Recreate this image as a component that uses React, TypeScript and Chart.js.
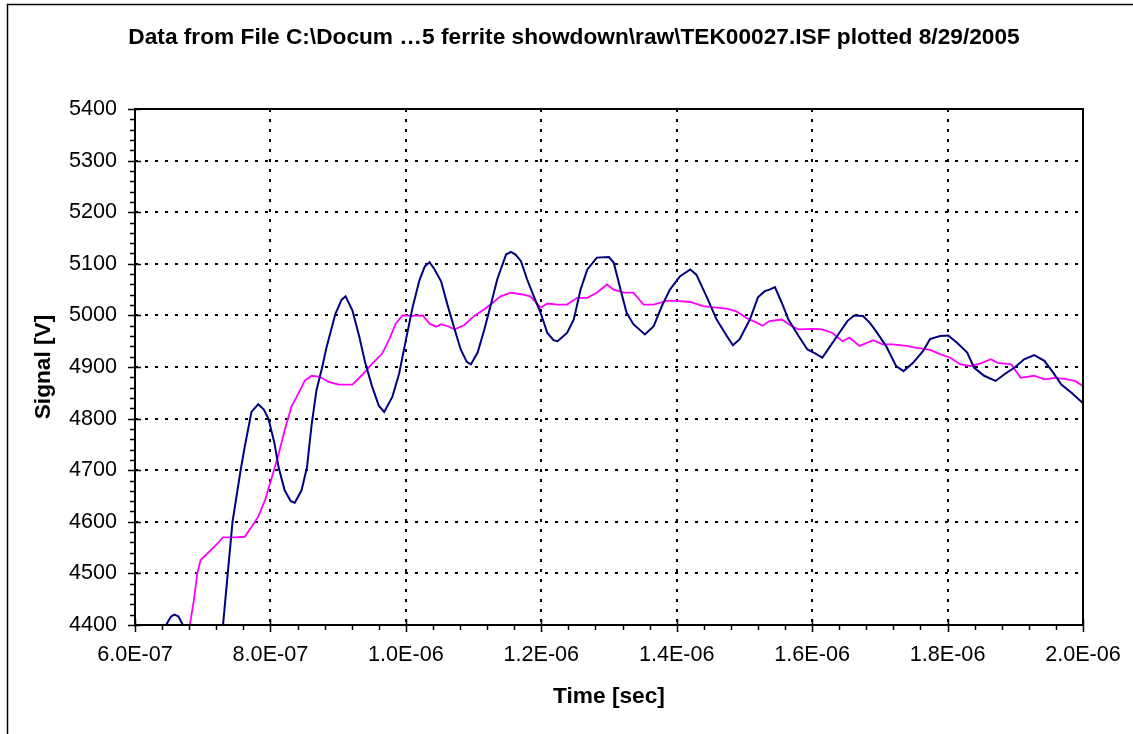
import React, { useEffect, useRef } from "react";
import { Chart, registerables } from "chart.js";

Chart.register(...registerables);

const TITLE = "Data from File C:\\Docum …5 ferrite showdown\\raw\\TEK00027.ISF plotted 8/29/2005";
const X_TITLE = "Time [sec]";
const Y_TITLE = "Signal [V]";

// x axis in microseconds, labels formatted as seconds
const X_MIN = 0.6;
const X_MAX = 2.0;
const X_STEP = 0.2;
const X_MINOR = 0.04;
const Y_MIN = 4400;
const Y_MAX = 5400;
const Y_STEP = 100;
const Y_MINOR = 20;

const blueTimeUs = [
  0.640, 0.648, 0.653, 0.658, 0.664, 0.670, 0.676, 0.726, 0.730, 0.737, 0.744, 0.756, 0.762, 0.772, 0.782, 0.790,
  0.797, 0.806, 0.812, 0.821, 0.830, 0.836, 0.846, 0.854, 0.861, 0.868, 0.876, 0.883, 0.896, 0.905, 0.911, 0.921,
  0.931, 0.940, 0.950, 0.960, 0.968, 0.980, 0.990, 1.000, 1.010, 1.020, 1.028, 1.035, 1.042, 1.052, 1.062, 1.072,
  1.081, 1.090, 1.096, 1.106, 1.116, 1.125, 1.135, 1.148, 1.155, 1.162, 1.170, 1.179, 1.189, 1.199, 1.209, 1.218,
  1.224, 1.238, 1.248, 1.258, 1.268, 1.282, 1.300, 1.307, 1.317, 1.326, 1.336, 1.353, 1.366, 1.378, 1.390, 1.405,
  1.420, 1.429, 1.444, 1.459, 1.474, 1.483, 1.493, 1.508, 1.520, 1.530, 1.537, 1.545, 1.555, 1.565, 1.580, 1.593,
  1.605, 1.615, 1.625, 1.640, 1.652, 1.662, 1.675, 1.685, 1.694, 1.709, 1.724, 1.735, 1.749, 1.764, 1.774, 1.789,
  1.801, 1.814, 1.829, 1.839, 1.854, 1.871, 1.884, 1.899, 1.913, 1.928, 1.943, 1.956, 1.968, 1.983, 1.998, 2.000,
];
const blueVolts = [
  4385, 4405, 4416, 4420, 4417, 4402, 4385, 4385, 4400, 4500, 4600, 4700, 4745, 4813, 4828, 4818,
  4800, 4752, 4706, 4661, 4640, 4637, 4661, 4706, 4790, 4855, 4897, 4939, 5003, 5030, 5037, 5010,
  4960, 4908, 4863, 4825, 4813, 4842, 4887, 4952, 5016, 5068, 5095, 5103, 5090, 5066, 5018, 4973,
  4934, 4910, 4905, 4928, 4973, 5018, 5070, 5118, 5123, 5118, 5105, 5070, 5037, 5005, 4966, 4952,
  4950, 4966, 4992, 5050, 5089, 5112, 5113, 5102, 5050, 5005, 4983, 4963, 4979, 5018, 5050, 5076,
  5089, 5079, 5037, 4992, 4960, 4942, 4954, 4992, 5035, 5047, 5050, 5055, 5025, 4992, 4960, 4934,
  4926, 4918, 4937, 4966, 4989, 5000, 4999, 4986, 4970, 4941, 4902, 4892, 4908, 4931, 4954, 4960,
  4961, 4947, 4928, 4899, 4883, 4873, 4886, 4899, 4915, 4923, 4912, 4889, 4866, 4850, 4832, 4830,
];

const pinkTimeUs = [
  0.678, 0.681, 0.687, 0.692, 0.697, 0.712, 0.722, 0.730, 0.747, 0.762, 0.772, 0.782, 0.792, 0.801, 0.811, 0.821,
  0.831, 0.841, 0.851, 0.861, 0.873, 0.886, 0.901, 0.921, 0.935, 0.950, 0.965, 0.975, 0.985, 0.995, 1.010, 1.025,
  1.035, 1.045, 1.052, 1.062, 1.072, 1.086, 1.101, 1.116, 1.125, 1.140, 1.155, 1.170, 1.184, 1.199, 1.209, 1.224,
  1.238, 1.253, 1.268, 1.282, 1.297, 1.307, 1.322, 1.336, 1.351, 1.366, 1.385, 1.400, 1.420, 1.439, 1.459, 1.474,
  1.488, 1.503, 1.518, 1.527, 1.537, 1.555, 1.570, 1.580, 1.600, 1.615, 1.630, 1.645, 1.655, 1.670, 1.690, 1.704,
  1.719, 1.739, 1.754, 1.774, 1.789, 1.804, 1.819, 1.834, 1.849, 1.864, 1.874, 1.894, 1.908, 1.928, 1.943, 1.958,
  1.973, 1.988, 2.000,
];
const pinkVolts = [
  4380, 4400, 4448, 4500, 4526, 4545, 4558, 4570, 4570, 4571, 4590, 4610, 4642, 4681, 4726, 4777,
  4823, 4848, 4874, 4883, 4881, 4871, 4866, 4866, 4884, 4906, 4926, 4952, 4984, 5000, 4999, 5000,
  4984, 4978, 4983, 4979, 4973, 4981, 4999, 5012, 5021, 5037, 5044, 5041, 5037, 5015, 5023, 5021,
  5021, 5034, 5034, 5044, 5060, 5050, 5044, 5044, 5021, 5021, 5028, 5028, 5026, 5018, 5015, 5013,
  5008, 4995, 4986, 4980, 4989, 4992, 4979, 4973, 4974, 4973, 4966, 4950, 4957, 4941, 4952, 4944,
  4944, 4941, 4937, 4933, 4925, 4918, 4905, 4902, 4907, 4915, 4908, 4905, 4879, 4883, 4876, 4879,
  4877, 4873, 4863,
];

const BLUE = "#000080";
const PINK = "#FF00FF";
const FONT = "'Liberation Sans', Arial, Helvetica, sans-serif";
const TITLE_SIZE = 22.7;
const TICK_SIZE = 21.6;

function fmtSeconds(us: number): string {
  const s = us * 1e-6;
  const exp = Math.floor(Math.log10(s) + 1e-9);
  const mant = s / Math.pow(10, exp);
  return mant.toFixed(1) + "E" + (exp < 0 ? "-" : "+") + String(Math.abs(exp)).padStart(2, "0");
}

const decorPlugin = {
  id: "decor",
  beforeDraw(chart: any) {
    const ctx = chart.ctx;
    ctx.save();
    ctx.strokeStyle = "#000";
    ctx.lineWidth = 1.5;
    ctx.beginPath();
    ctx.moveTo(7.5, chart.height);
    ctx.lineTo(7.5, 4.5);
    ctx.lineTo(chart.width, 4.5);
    ctx.stroke();
    ctx.restore();
  },
  afterDatasetsDraw(chart: any) {
    const ctx = chart.ctx;
    const { left, right, top, bottom } = chart.chartArea;
    const xs = chart.scales.x;
    const ys = chart.scales.y;
    ctx.save();
    ctx.strokeStyle = "#000";
    ctx.lineWidth = 2;
    ctx.strokeRect(left, top, right - left, bottom - top);
    ctx.lineWidth = 1.5;
    ctx.beginPath();
    const nxMinor = Math.round((X_MAX - X_MIN) / X_MINOR);
    const perMajorX = Math.round(X_STEP / X_MINOR);
    for (let i = 0; i <= nxMinor; i++) {
      const px = Math.round(xs.getPixelForValue(X_MIN + i * X_MINOR)) + 0.5;
      if (i % perMajorX === 0) {
        ctx.moveTo(px, bottom - 6);
        ctx.lineTo(px, bottom + 7);
      } else {
        ctx.moveTo(px, bottom);
        ctx.lineTo(px, bottom + 5);
      }
    }
    const nyMinor = Math.round((Y_MAX - Y_MIN) / Y_MINOR);
    const perMajorY = Math.round(Y_STEP / Y_MINOR);
    for (let i = 0; i <= nyMinor; i++) {
      const py = Math.round(ys.getPixelForValue(Y_MIN + i * Y_MINOR)) + 0.5;
      if (i % perMajorY === 0) {
        ctx.moveTo(left - 7, py);
        ctx.lineTo(left + 6, py);
      } else {
        ctx.moveTo(left - 5, py);
        ctx.lineTo(left, py);
      }
    }
    ctx.stroke();
    ctx.restore();
  },
};

export default function App() {
  const canvasRef = useRef<HTMLCanvasElement | null>(null);

  useEffect(() => {
    if (!canvasRef.current) return;
    const blueData = blueTimeUs.map((t, i) => ({ x: t, y: blueVolts[i] }));
    const pinkData = pinkTimeUs.map((t, i) => ({ x: t, y: pinkVolts[i] }));

    const chart = new Chart(canvasRef.current, {
      type: "line",
      data: {
        datasets: [
          {
            label: "Series 1",
            data: blueData,
            borderColor: BLUE,
            borderWidth: 2,
            pointRadius: 0,
            tension: 0,
            clip: 0,
            yAxisID: "y",
          },
          {
            label: "Series 2",
            data: pinkData,
            borderColor: PINK,
            borderWidth: 1.8,
            pointRadius: 0,
            tension: 0,
            clip: 0,
            yAxisID: "y",
          },
        ],
      },
      plugins: [decorPlugin],
      options: {
        animation: false,
        responsive: false,
        devicePixelRatio: 1,
        layout: { padding: { left: 15, right: 0, top: 0, bottom: 0 } },
        plugins: {
          legend: { display: false },
          tooltip: { enabled: false },
          title: {
            display: true,
            text: TITLE,
            color: "#000",
            font: { family: FONT, size: TITLE_SIZE, weight: "bold" },
            padding: { top: 24.4, bottom: 57.36 },
          },
        },
        scales: {
          x: {
            type: "linear",
            min: X_MIN,
            max: X_MAX,
            afterFit(scale: any) {
              scale.height = 109;
              scale.paddingLeft = 0;
              scale.paddingRight = 0;
            },
            ticks: {
              stepSize: X_STEP,
              padding: 17.5,
              color: "#000",
              maxRotation: 0,
              autoSkip: false,
              font: { family: FONT, size: TICK_SIZE },
              callback: (v: any) => fmtSeconds(Number(v)),
            },
            grid: {
              color: "#000",
              lineWidth: 2,
              drawTicks: false,
            },
            border: { display: false, dash: [3, 7] },
            title: {
              display: true,
              text: X_TITLE,
              color: "#000",
              font: { family: FONT, size: TITLE_SIZE, weight: "bold" },
              padding: { top: 0, bottom: 23.4 },
            },
          },
          y: {
            type: "linear",
            position: "left",
            min: Y_MIN,
            max: Y_MAX,
            afterFit(scale: any) {
              scale.width = 120;
            },
            ticks: {
              stepSize: Y_STEP,
              padding: 18,
              color: "#000",
              font: { family: FONT, size: TICK_SIZE },
              callback: (v: any) => String(v),
            },
            grid: {
              color: "#000",
              lineWidth: 2,
              drawTicks: false,
            },
            border: { display: false, dash: [3, 7] },
            title: {
              display: true,
              text: Y_TITLE,
              color: "#000",
              font: { family: FONT, size: TITLE_SIZE, weight: "bold" },
              padding: { top: 15.4, bottom: 0 },
            },
          },
          yRight: {
            type: "linear",
            position: "right",
            display: true,
            afterFit(scale: any) {
              scale.width = 50;
              scale.paddingTop = 0;
              scale.paddingBottom = 0;
            },
            ticks: { display: false },
            grid: { display: false, drawTicks: false },
            border: { display: false },
          },
        },
      },
    } as any);

    return () => chart.destroy();
  }, []);

  return (
    <div style={{ position: "absolute", left: 0, top: 0, width: 1133, height: 734, background: "#fff" }}>
      <canvas ref={canvasRef} width={1133} height={734} style={{ display: "block" }} />
    </div>
  );
}
